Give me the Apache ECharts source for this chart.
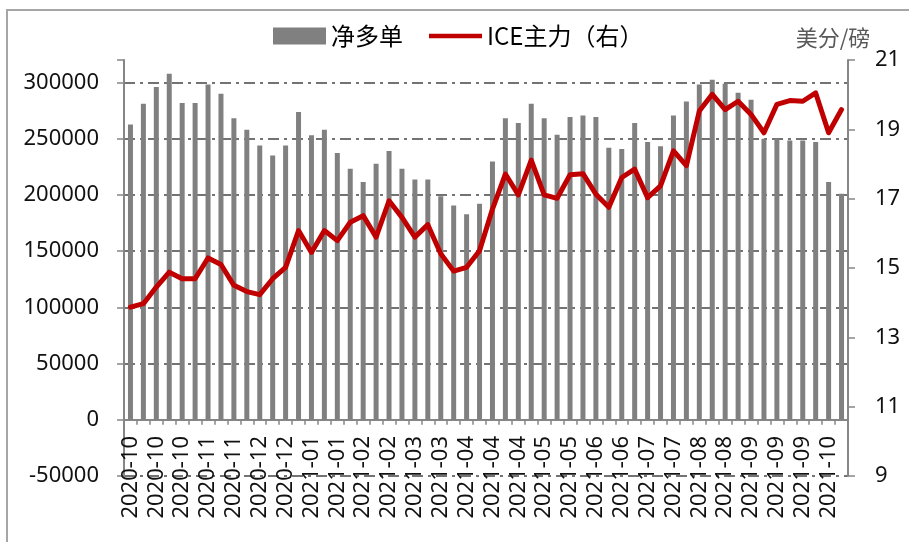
<!DOCTYPE html>
<html>
<head>
<meta charset="utf-8">
<title>净多单与ICE主力</title>
<script src="https://cdn.jsdelivr.net/npm/echarts@6.0.0/dist/echarts.min.js"></script>
<style>
  html, body { margin: 0; padding: 0; background: #fff; }
  #chart { width: 909px; height: 542px; }
</style>
</head>
<body>
<div id="chart"></div>
<script>
// weekly categories (only every other one is labelled)
const months = [
  '2020-10', '2020-10', '2020-10', '2020-10', '2020-10',
  '2020-11', '2020-11', '2020-11', '2020-11',
  '2020-12', '2020-12', '2020-12', '2020-12',
  '2021-01', '2021-01', '2021-01', '2021-01',
  '2021-02', '2021-02', '2021-02', '2021-02',
  '2021-03', '2021-03', '2021-03', '2021-03', '2021-03',
  '2021-04', '2021-04', '2021-04', '2021-04', '2021-04',
  '2021-05', '2021-05', '2021-05', '2021-05',
  '2021-06', '2021-06', '2021-06', '2021-06',
  '2021-07', '2021-07', '2021-07', '2021-07',
  '2021-08', '2021-08', '2021-08', '2021-08', '2021-08',
  '2021-09', '2021-09', '2021-09', '2021-09', '2021-09',
  '2021-10', '2021-10', '2021-10'
];

// 净多单 (left axis)
const netLong = [
  262700, 281100, 296000, 307800, 281700, 281700, 298300, 290000, 268300, 258000,
  244000, 235100, 244000, 273700, 253000, 258000, 237200, 223300, 211400, 227800,
  239000, 223300, 213800, 213800, 198900, 190700, 182700, 192200, 229800, 268300,
  263900, 281100, 268300, 253600, 269200, 270700, 269200, 242000, 240800, 263900,
  247000, 243200, 270700, 283200, 298300, 302500, 298900, 290900, 284700, 250000,
  250000, 248500, 248500, 247000, 211400, 201100
];

// ICE主力 (right axis, 美分/磅)
const icePrice = [
  13.87, 13.97, 14.45, 14.88, 14.69, 14.69, 15.29, 15.10, 14.50, 14.32,
  14.23, 14.69, 15.02, 16.08, 15.45, 16.08, 15.79, 16.32, 16.51, 15.89,
  16.94, 16.46, 15.89, 16.25, 15.41, 14.91, 15.02, 15.50, 16.70, 17.71,
  17.11, 18.11, 17.11, 17.01, 17.69, 17.72, 17.13, 16.75, 17.61, 17.85,
  17.03, 17.37, 18.38, 17.95, 19.53, 20.01, 19.57, 19.81, 19.43, 18.90,
  19.72, 19.83, 19.81, 20.05, 18.90, 19.57
];

const FONT = "'Noto Sans', 'Noto Sans CJK SC', sans-serif";
const CJK = "'Noto Sans CJK SC', sans-serif";
const AXIS_GRAY = '#868686';

class PositionChart {
  constructor(el) {
    this.chart = echarts.init(typeof el == 'string' ? document.getElementById(el) : el);
  }
  getOption() {
    return {
      backgroundColor: '#fff',
      animation: false,
      graphic: [{
        type: 'rect',
        shape: { x: 7, y: 10, width: 1000, height: 600 },
        style: { fill: 'none', stroke: '#a6a6a6', lineWidth: 2 },
        silent: true
      }],
      legend: {
        left: 268,
        top: 19,
        itemWidth: 53,
        itemHeight: 17,
        itemGap: 26,
        textStyle: { fontFamily: CJK, fontSize: 24, color: '#000' },
        data: [
          { name: '净多单', icon: 'rect' },
          { name: 'ICE主力（右）', icon: 'path://M0,0 L56,0 L56,5 L0,5 Z' }
        ]
      },
      grid: {
        left: 124,
        right: 61,
        top: 60,
        bottom: 66,
        containLabel: false,
        outerBoundsMode: 'none'
      },
      xAxis: {
        type: 'category',
        data: months,
        boundaryGap: true,
        axisLine: { onZero: true, lineStyle: { color: AXIS_GRAY, width: 2 } },
        axisTick: { show: true, interval: 0, length: 5, lineStyle: { color: AXIS_GRAY, width: 1.5 } },
        axisLabel: {
          interval: 1,
          rotate: 90,
          margin: -40,
          fontFamily: FONT,
          fontSize: 22,
          color: '#111'
        }
      },
      yAxis: [{
        type: 'value',
        min: -50000,
        max: 320000,
        interval: 50000,
        axisLine: { show: true, lineStyle: { color: AXIS_GRAY, width: 2 } },
        axisTick: { show: true, length: 7, lineStyle: { color: AXIS_GRAY, width: 1.5 } },
        axisLabel: {
          margin: 25,
          fontFamily: FONT,
          fontSize: 22,
          color: '#111',
          formatter: v => (v % 50000 === 0 ? String(v) : '')
        },
        splitLine: {
          show: true,
          showMaxLine: false,
          lineStyle: { color: '#737373', width: 2, type: [11, 5, 3, 5] }
        }
      }, {
        type: 'value',
        position: 'right',
        min: 9,
        max: 21,
        interval: 2,
        name: '美分/磅',
        nameLocation: 'end',
        nameGap: 9,
        nameTextStyle: { fontFamily: CJK, fontSize: 22, color: '#595959', padding: [0, 30, 0, 0] },
        axisLine: { show: true, lineStyle: { color: AXIS_GRAY, width: 2 } },
        axisTick: { show: true, length: 7, lineStyle: { color: AXIS_GRAY, width: 1.5 } },
        axisLabel: {
          margin: 27,
          fontFamily: FONT,
          fontSize: 22,
          color: '#111'
        },
        splitLine: { show: false }
      }],
      series: [{
        name: '净多单',
        type: 'bar',
        yAxisIndex: 0,
        barWidth: 5,
        itemStyle: { color: '#808080' },
        data: netLong
      }, {
        name: 'ICE主力（右）',
        type: 'line',
        yAxisIndex: 1,
        symbol: 'none',
        z: 5,
        itemStyle: { color: '#C00000' },
        lineStyle: { color: '#C00000', width: 5, join: 'round', cap: 'round' },
        data: icePrice
      }]
    };
  }
  load() {
    this.chart.setOption(this.getOption());
  }
}

new PositionChart('chart').load();
</script>
</body>
</html>
